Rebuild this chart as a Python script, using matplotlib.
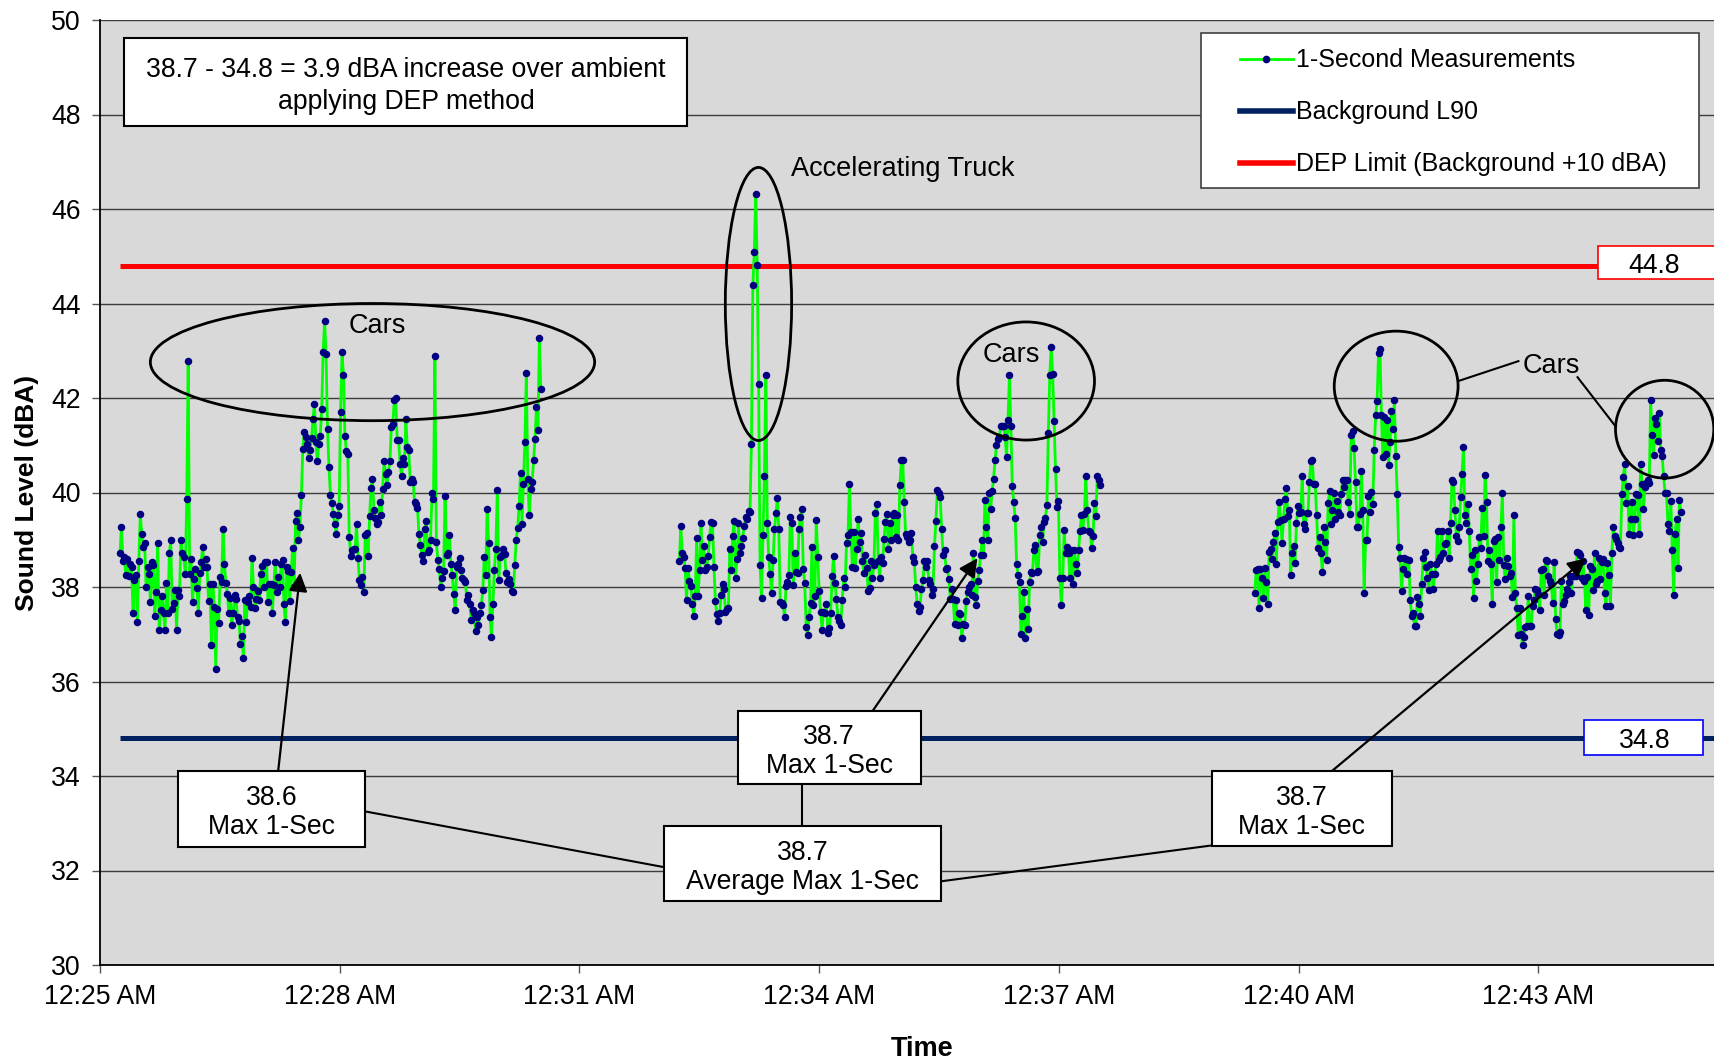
import numpy as np
import pandas as pd
import matplotlib
matplotlib.use("Agg")
import matplotlib.pyplot as plt
import matplotlib.dates as mdates
from matplotlib.patches import Ellipse, Rectangle
from matplotlib.lines import Line2D

plt.rcParams['font.family'] = ['Liberation Sans', 'DejaVu Sans']

dia = "2000-01-01 "
seg1_ini, seg1_fin = "00:25:15", "00:30:31"
seg2_ini, seg2_fin = "00:32:15", "00:37:31"
seg3_ini, seg3_fin = "00:39:27", "00:44:47"

seg1 = [38.71, 39.28, 38.56, 38.63, 38.25, 38.59, 38.24, 38.49, 38.42, 37.44, 38.14, 38.25, 37.25, 38.56, 39.54,
        39.13, 38.85, 38.93, 37.99, 38.42, 38.28, 37.68, 38.53, 38.46, 37.38, 37.89, 38.93, 37.08, 37.51, 37.82,
        37.44, 37.08, 38.08, 37.44, 38.71, 38.99, 37.54, 37.66, 37.93, 37.08, 37.94, 37.82, 38.99, 38.71, 38.63,
        38.28, 39.87, 42.78, 38.28, 38.59, 37.68, 38.17, 38.38, 37.97, 37.44, 38.30, 38.53, 38.85, 38.42, 38.59,
        38.42, 37.70, 38.06, 36.77, 38.06, 37.58, 36.27, 37.54, 37.24, 38.21, 38.11, 39.23, 38.49, 38.08, 37.86,
        37.45, 37.77, 37.19, 37.44, 37.84, 37.75, 37.37, 37.29, 36.80, 36.96, 36.50, 37.72, 37.26, 37.68, 37.82,
        37.58, 38.62, 38.01, 37.56, 37.74, 37.91, 37.72, 38.28, 38.45, 38.01, 38.53, 38.53, 37.68, 38.07, 38.06,
        37.44, 38.04, 38.53, 37.89, 38.21, 37.99, 38.49, 38.58, 37.63, 37.26, 38.42, 38.34, 37.70, 38.32, 38.83,
        38.00, 39.40, 39.57, 38.99, 39.28, 39.95, 40.93, 41.28, 41.17, 41.02, 40.72, 40.89, 41.16, 41.55, 41.88,
        41.07, 40.66, 41.03, 41.19, 41.77, 42.97, 43.64, 42.94, 41.35, 40.54, 39.95, 39.78, 39.55, 39.33, 39.13,
        39.52, 39.71, 41.70, 42.97, 42.48, 41.19, 40.88, 40.82, 39.06, 38.66, 38.78, 38.81, 38.81, 39.33, 38.62,
        38.14, 38.04, 38.21, 37.89, 39.09, 39.15, 38.65, 39.50, 40.10, 40.28, 39.62, 39.45, 39.33, 39.38, 39.80,
        39.52, 40.08, 40.66, 40.40, 40.15, 40.43, 40.66, 41.39, 41.46, 41.95, 41.99, 41.12, 41.12, 40.60, 40.35,
        40.72, 40.61, 41.56, 40.96, 40.89, 40.22, 40.29, 40.22, 39.80, 39.76, 39.68, 39.13, 38.88, 38.67, 38.56,
        39.23, 39.40, 38.74, 38.78, 39.00, 39.99, 39.87, 42.88, 38.95, 38.58, 38.39, 38.01, 38.20, 38.34, 39.92,
        38.67, 38.72, 39.09, 38.49, 38.25, 37.86, 37.51, 38.42, 38.49, 38.61, 38.37, 38.18, 38.14, 38.11, 37.73,
        37.84, 37.65, 37.31, 37.51, 37.44, 37.07, 37.37, 37.19, 37.44, 37.61, 37.93, 38.63, 38.26, 39.66, 38.93,
        37.37, 36.94, 37.63, 38.37, 38.81, 40.06, 38.14, 38.63, 38.67, 38.81, 38.69, 38.30, 38.11, 38.16, 38.07,
        37.91, 37.89, 38.46, 38.99, 39.25, 39.71, 40.41, 39.33, 40.19, 41.07, 42.52, 40.29, 39.52, 40.08, 40.22,
        40.69, 41.14, 41.82, 41.32, 43.28, 42.18]

seg2 = [38.55, 39.29, 38.71, 38.63, 38.41, 37.72, 38.41, 38.13, 38.02, 37.65, 37.39, 37.81, 39.03, 37.80, 38.36,
        39.36, 38.57, 38.87, 38.35, 38.43, 38.66, 39.05, 39.38, 39.35, 38.42, 37.70, 37.42, 37.27, 37.44, 37.84,
        38.06, 37.95, 37.48, 37.53, 37.55, 38.80, 38.37, 39.08, 39.40, 38.20, 38.60, 39.35, 38.73, 38.87, 39.04,
        39.29, 39.49, 39.43, 39.61, 39.59, 41.02, 44.39, 45.09, 46.32, 44.81, 42.29, 38.47, 37.76, 39.10, 40.35,
        42.49, 39.35, 38.63, 38.27, 37.87, 38.57, 39.22, 39.56, 39.88, 39.22, 37.68, 37.67, 37.62, 37.37, 38.02,
        38.10, 38.25, 39.49, 39.36, 38.04, 38.73, 38.32, 38.30, 39.23, 39.49, 39.65, 38.38, 38.08, 37.15, 36.98,
        37.37, 37.67, 38.85, 37.61, 37.81, 39.42, 38.64, 37.91, 37.48, 37.09, 37.48, 37.44, 37.63, 37.03, 37.13,
        37.46, 38.23, 38.66, 38.09, 37.74, 37.37, 37.27, 37.20, 37.72, 38.18, 38.01, 38.94, 39.10, 40.19, 39.17,
        38.43, 39.17, 38.41, 38.80, 39.43, 38.96, 39.15, 38.54, 38.29, 38.68, 38.40, 37.91, 37.98, 38.54, 38.20,
        38.47, 39.57, 39.76, 38.54, 38.20, 38.64, 38.50, 39.01, 39.38, 39.54, 38.80, 39.36, 38.99, 39.52, 39.56,
        39.06, 39.52, 38.99, 40.15, 40.68, 40.69, 39.80, 39.13, 39.06, 38.95, 38.99, 39.14, 38.63, 38.53, 38.00,
        37.65, 37.49, 37.58, 37.96, 38.14, 38.55, 38.42, 38.55, 38.14, 38.06, 37.84, 37.96, 38.86, 39.39, 40.05,
        39.98, 39.90, 39.23, 38.67, 38.78, 38.39, 38.41, 38.16, 37.75, 37.96, 37.75, 37.21, 37.73, 37.19, 37.44,
        37.42, 36.93, 37.21, 37.19, 37.70, 37.89, 38.00, 38.07, 37.84, 38.71, 37.79, 37.61, 38.13, 38.35, 38.67,
        38.99, 38.67, 39.85, 39.28, 38.99, 39.99, 39.66, 40.03, 40.29, 40.68, 41.00, 41.14, 41.17, 41.40, 41.40,
        41.40, 41.17, 40.75, 41.53, 42.48, 41.40, 40.13, 39.80, 39.46, 38.48, 38.25, 38.11, 37.00, 37.38, 37.89,
        36.93, 37.54, 37.12, 38.11, 38.32, 38.30, 38.79, 38.88, 38.32, 38.34, 39.09, 39.28, 38.95, 39.38, 39.46,
        39.73, 41.25, 42.49, 43.07, 42.51, 41.51, 40.50, 39.69, 39.83, 38.20, 37.61, 38.18, 39.20, 38.72, 38.85,
        38.71, 38.20, 38.78, 38.07, 38.79, 38.49, 38.30, 38.78, 39.19, 39.53, 39.20, 39.55, 40.34, 39.64, 39.19,
        39.16, 38.83, 39.07, 39.78, 39.50, 40.34, 40.26, 40.15]

seg3 = [37.87, 38.35, 38.39, 37.56, 38.39, 38.18, 37.77, 38.40, 38.11, 37.63, 38.74, 38.81, 38.60, 38.95, 39.14,
        38.49, 39.38, 39.80, 39.41, 38.93, 39.43, 39.87, 40.10, 39.50, 39.64, 38.25, 38.72, 38.86, 38.51, 39.35,
        39.71, 39.57, 39.59, 40.35, 39.33, 39.23, 39.57, 39.57, 40.22, 40.67, 40.68, 40.17, 40.19, 39.52, 38.83,
        39.06, 38.71, 38.32, 39.27, 38.95, 38.58, 39.78, 40.03, 39.34, 39.62, 39.98, 39.43, 39.83, 39.59, 39.52,
        39.96, 40.26, 40.12, 40.26, 40.26, 39.80, 39.54, 41.22, 41.30, 40.94, 40.22, 39.27, 39.28, 39.55, 40.46,
        39.62, 37.87, 38.99, 39.00, 39.92, 39.59, 40.01, 39.75, 40.91, 41.63, 41.94, 42.95, 43.04, 41.63, 40.75,
        41.60, 40.82, 41.54, 40.59, 41.07, 41.72, 41.34, 41.95, 40.77, 39.96, 38.85, 38.62, 37.91, 38.39, 38.62,
        38.60, 38.27, 38.58, 37.73, 37.38, 37.44, 37.17, 37.17, 37.79, 37.65, 37.38, 38.06, 38.61, 38.74, 38.42,
        38.18, 37.94, 38.48, 38.27, 37.96, 38.28, 38.48, 39.19, 38.58, 38.64, 39.19, 38.71, 38.92, 38.93, 39.19,
        38.62, 39.35, 40.27, 40.22, 39.64, 39.07, 38.97, 39.27, 39.90, 40.40, 40.96, 39.52, 39.35, 39.76, 39.19,
        38.39, 38.67, 37.77, 38.78, 38.13, 38.49, 39.06, 38.83, 39.68, 39.07, 40.38, 39.80, 38.56, 38.78, 38.49,
        37.63, 38.97, 39.02, 38.11, 39.06, 38.58, 39.28, 39.98, 38.46, 38.16, 38.62, 38.44, 38.23, 38.30, 37.79,
        39.52, 37.87, 37.56, 36.98, 37.56, 37.00, 36.77, 36.94, 37.15, 37.17, 37.80, 37.17, 37.17, 37.59, 37.73,
        37.96, 37.94, 37.86, 37.51, 38.37, 38.39, 37.84, 38.58, 38.55, 38.23, 38.13, 38.07, 37.66, 38.53, 37.33,
        37.01, 36.98, 37.05, 38.13, 37.63, 37.70, 37.84, 37.96, 38.11, 38.23, 37.87, 38.23, 38.23, 38.23, 38.74,
        38.71, 38.67, 38.20, 38.55, 38.13, 37.51, 38.21, 37.40, 38.44, 38.39, 37.94, 38.71, 38.07, 38.13, 38.62,
        38.16, 38.53, 38.60, 37.87, 37.59, 38.51, 38.25, 37.59, 38.71, 39.26, 39.07, 39.02, 38.93, 38.85, 38.83,
        39.96, 40.33, 40.60, 39.78, 40.13, 39.13, 39.43, 39.80, 39.11, 39.43, 39.96, 39.94, 39.13, 40.61, 40.17,
        39.66, 40.12, 40.20, 40.27, 40.20, 41.95, 41.21, 40.79, 41.58, 41.44, 41.09, 41.68, 40.89, 40.77, 40.34,
        39.99, 39.98, 39.33, 39.19, 39.82, 38.78, 37.84, 39.13, 39.43, 38.41, 39.85, 39.59]

fondo_l90 = 34.8
limite_dep = 44.8

t0 = pd.Timestamp(dia + "00:25:00")


def tm(m):
    # minutos despues de 12:25 -> fecha de matplotlib
    return mdates.date2num(t0 + pd.Timedelta(minutes=m))


def dur(m):
    return m / 1440.0


fig = plt.figure(figsize=(17.15, 10.62), dpi=100)
ax = fig.add_axes([100 / 1715, 97 / 1062, 1615 / 1715, 945 / 1062])
ax.set_facecolor('#D9D9D9')

verde = '#00FF00'
azul = '#000080'
marino = '#002060'
fs = 19.2

for ini, fin, vals in [(seg1_ini, seg1_fin, seg1), (seg2_ini, seg2_fin, seg2), (seg3_ini, seg3_fin, seg3)]:
    tiempos = pd.date_range(dia + ini, dia + fin, periods=len(vals))
    ax.plot(tiempos, vals, color=verde, lw=2, marker='o', ms=4.4, mfc=azul, mec=azul, zorder=3)

linea_t = [pd.Timestamp(dia + seg1_ini), pd.Timestamp(dia + "00:46:00")]
ax.plot(linea_t, [limite_dep, limite_dep], color='#FF0000', lw=3.6, zorder=2.5, solid_capstyle='butt')
ax.plot(linea_t, [fondo_l90, fondo_l90], color=marino, lw=3.6, zorder=2.5, solid_capstyle='butt')

ax.set_xlim(tm(0), tm(20.21))
ax.set_ylim(30, 50)
ax.set_yticks(np.arange(30, 51, 2))
ax.xaxis.set_major_locator(mdates.MinuteLocator(byminute=range(25, 60, 3)))
ax.xaxis.set_major_formatter(mdates.DateFormatter('%I:%M %p'))
ax.yaxis.grid(True, color='#3c3c3c', lw=1.0)
ax.set_axisbelow(True)
for s in ['top', 'right']:
    ax.spines[s].set_visible(False)
for s in ['left', 'bottom']:
    ax.spines[s].set_linewidth(1.3)
ax.tick_params(axis='both', labelsize=fs, length=6, width=1, color='#555555', direction='out')
ax.tick_params(axis='y', pad=8)
ax.tick_params(axis='x', pad=8)

ax.set_ylabel('Sound Level (dBA)', fontsize=19, fontweight='bold')
ax.yaxis.set_label_coords(-0.0376, 0.5)
ax.set_xlabel('Time', fontsize=19.5, fontweight='bold')
ax.xaxis.set_label_coords(0.509, -0.075)

# leyenda con marco propio
ax.add_patch(Rectangle((0.6817, 0.8222), 0.3084, 0.164, transform=ax.transAxes,
                       facecolor='white', edgecolor='#404040', lw=1.2, zorder=6))
handles = [Line2D([], [], color=verde, lw=2, marker='o', ms=4.5, mfc=azul, mec=azul),
           Line2D([], [], color=marino, lw=4),
           Line2D([], [], color='#FF0000', lw=4)]
labels = ['1-Second Measurements', 'Background L90', 'DEP Limit (Background +10 dBA)']
leg = ax.legend(handles, labels, loc='upper left', bbox_to_anchor=(0.7059, 0.970), frameon=False,
                fontsize=18, handlelength=2.1, handletextpad=0.15, labelspacing=1.12,
                borderpad=0, borderaxespad=0)
leg.set_zorder(7)


def caja(x0, x1, y0, y1, texto, borde='black', lw=1.5, ls=1.155, tx=None):
    ax.add_patch(Rectangle((tm(x0), y0), dur(x1 - x0), y1 - y0, facecolor='white',
                           edgecolor=borde, lw=lw, zorder=6))
    cx = (x0 + x1) / 2 if tx is None else tx
    ax.text(tm(cx), (y0 + y1) / 2 - 0.08, texto, ha='center', va='center', fontsize=fs,
            linespacing=ls, zorder=7)


caja(0.306, 7.35, 47.76, 49.62, '38.7 - 34.8 = 3.9 dBA increase over ambient\napplying DEP method', ls=1.3)
caja(18.74, 20.4, 44.52, 45.22, '44.8', borde='#FF0000', lw=1.2, tx=19.45)
caja(18.57, 20.06, 34.44, 35.19, '34.8', borde='#0000FF', lw=1.2, tx=19.33)
caja(0.97, 3.32, 32.50, 34.11, '38.6\nMax 1-Sec')
caja(7.98, 10.27, 33.83, 35.38, '38.7\nMax 1-Sec')
caja(13.91, 16.17, 32.52, 34.11, '38.7\nMax 1-Sec')
caja(7.06, 10.52, 31.35, 32.94, '38.7\nAverage Max 1-Sec')

# flechas a los maximos
for (xa, ya), (xb, yb) in [((2.23, 34.11), (2.505, 38.30)),
                           ((9.67, 35.38), (10.98, 38.61)),
                           ((15.42, 34.11), (18.60, 38.61))]:
    ax.annotate('', xy=(tm(xb), yb), xytext=(tm(xa), ya),
                arrowprops=dict(arrowstyle='-|>', color='black', lw=1.6, mutation_scale=28,
                                shrinkA=0, shrinkB=0), zorder=5)

# lineas hacia el promedio
for (xa, ya), (xb, yb) in [((3.32, 33.25), (7.06, 32.07)),
                           ((8.79, 33.83), (8.79, 32.94)),
                           ((13.91, 32.53), (10.52, 31.77)),
                           ((17.0, 42.36), (17.75, 42.78)),
                           ((18.49, 42.44), (18.97, 41.39))]:
    ax.plot([tm(xa), tm(xb)], [ya, yb], color='black', lw=1.5, zorder=5)

# elipses
for cx, cy, w, h in [(3.41, 42.76, 5.56, 2.48), (8.24, 43.99, 0.83, 5.78),
                     (11.59, 42.36, 1.71, 2.50), (16.22, 42.25, 1.55, 2.33),
                     (19.58, 41.34, 1.23, 2.07)]:
    ax.add_patch(Ellipse((tm(cx), cy), dur(w), h, fill=False, edgecolor='black', lw=2, zorder=4))

ax.text(tm(3.47), 43.52, 'Cars', ha='center', va='center', fontsize=19.5, zorder=7)
ax.text(tm(10.04), 46.84, 'Accelerating Truck', ha='center', va='center', fontsize=19.5, zorder=7)
ax.text(tm(11.40), 42.92, 'Cars', ha='center', va='center', fontsize=19.5, zorder=7)
ax.text(tm(18.16), 42.67, 'Cars', ha='center', va='center', fontsize=19.5, zorder=7)

fig.savefig('out.png', dpi=100)
